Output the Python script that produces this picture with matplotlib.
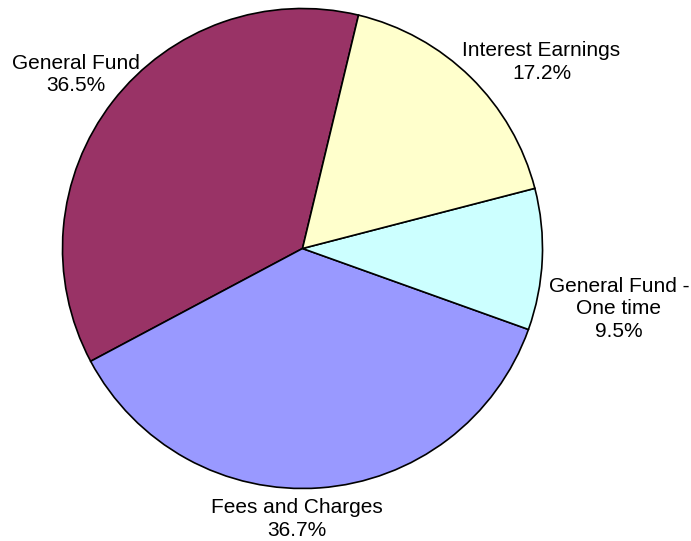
import matplotlib
matplotlib.use("Agg")
import matplotlib.pyplot as plt

# Data (counter-clockwise order starting at the top boundary)
categories = ["General Fund", "Fees and Charges", "General Fund -\nOne time", "Interest Earnings"]
values = [36.5, 36.7, 9.5, 17.2]
pct_labels = ["36.5%", "36.7%", "9.5%", "17.2%"]
colors = ["#993366", "#9999FF", "#CCFFFF", "#FFFFCC"]

W, H = 691, 541
cx, cy, R = 302.5, 248.5, 240.0

fig = plt.figure(figsize=(W / 100, H / 100), dpi=100)
ax = fig.add_axes([0, 0, 1, 1])

wedges, _ = ax.pie(values, colors=colors, startangle=76.5, counterclock=True,
                   radius=1.0, center=(0, 0), frame=True,
                   wedgeprops=dict(edgecolor="black", linewidth=1.2))
ax.set_xlim(-cx / R, (W - cx) / R)
ax.set_ylim(-(H - cy) / R, cy / R)
ax.set_aspect("equal")
ax.axis("off")

# label positions (layout, data units of the pie radius)
label_pos = [(-0.946, 0.725), (-0.025, -1.128), (1.318, -0.252), (0.996, 0.776)]
for cat, pct, (x, y) in zip(categories, pct_labels, label_pos):
    ax.text(x, y, f"{cat}\n{pct}", ha="center", va="center", fontsize=15,
            family="Liberation Sans", linespacing=1.25, color="black")

fig.savefig("out.png", dpi=100)
